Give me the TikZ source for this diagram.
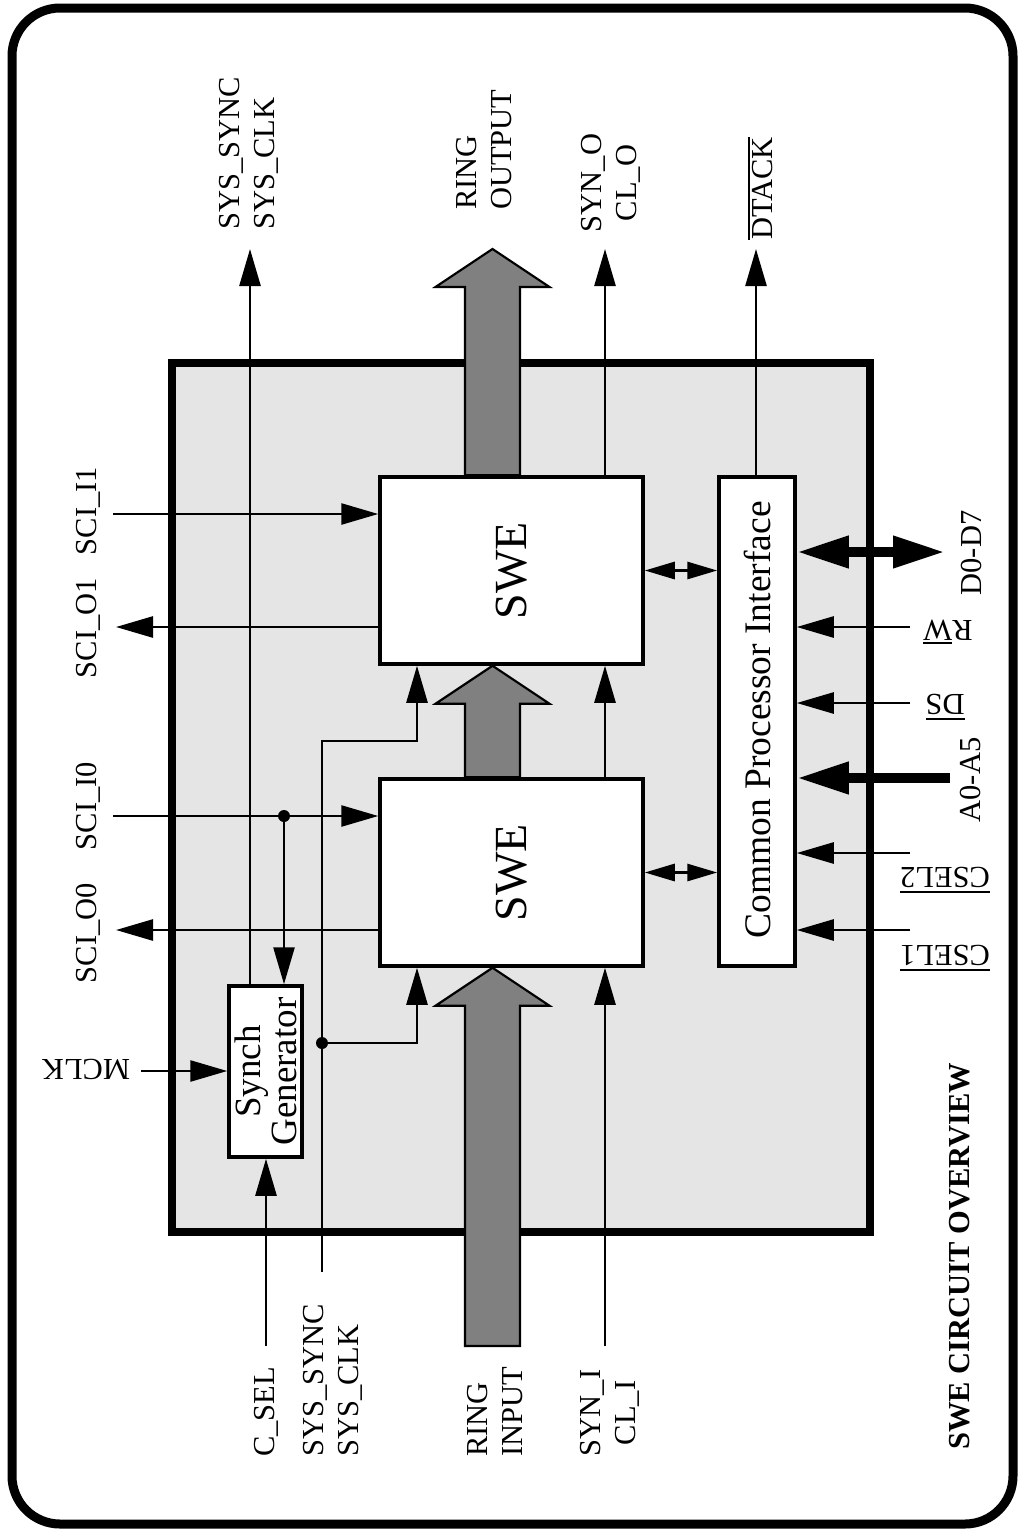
\documentclass[tikz,border=0pt]{standalone}
\usepackage{fontspec}
\setmainfont{Liberation Serif}
\usetikzlibrary{arrows.meta,calc}
\definecolor{chipgray}{HTML}{E5E5E5}
\definecolor{ringgray}{HTML}{808080}
\newcommand{\ovl}[1]{\leavevmode\vbox{\hrule height 2pt\kern 2.5pt\hbox{#1}}}
\newcommand{\lblf}{\fontsize{30.5}{35}\selectfont}
\newcommand{\fatup}[2]{\draw[ring] ($(#1)+(-27.5,0)$) -- ($(#2)+(-27.5,38)$) -- ($(#2)+(-57,38)$) -- (#2) -- ($(#2)+(57,38)$) -- ($(#2)+(27.5,38)$) -- ($(#1)+(27.5,0)$) -- cycle;}
\begin{document}
\begin{tikzpicture}[x=1pt,y=-1pt,
  arr/.style={line width=2.6pt,-{Triangle[length=37pt,width=21pt]}},
  dblarr/.style={line width=3pt,{Triangle[length=30pt,width=17pt]}-{Triangle[length=30pt,width=17pt]}},
  fatarr/.style={line width=10pt,-{Triangle[length=52pt,width=30pt]}},
  fatdbl/.style={line width=10pt,{Triangle[length=52pt,width=30pt]}-{Triangle[length=52pt,width=30pt]}},
  blk/.style={draw,line width=3.5pt,fill=white,inner sep=0pt},
  ring/.style={draw,line width=2.2pt,fill=ringgray,line join=miter},
  lbl/.style={font=\lblf,inner sep=0pt},
  dot/.style={circle,fill,inner sep=0pt,minimum size=12pt},
]
\useasboundingbox (0,0) rectangle (1019,1531);
\draw[line width=9pt,rounded corners=48pt] (12,8) rectangle (1013,1524);

% chip
\node[draw,line width=8pt,fill=chipgray,minimum width=698pt,minimum height=869pt,inner sep=0pt] (chip) at (521,797.5) {};

% blocks
\node[blk,minimum width=263pt,minimum height=187pt] (swe1) at (511.5,570.5) {};
\node[blk,minimum width=263pt,minimum height=187pt] (swe0) at (511.5,872.5) {};
\node[blk,minimum width=76pt,minimum height=489pt] (cpi) at (757,721.5) {};
\node[blk,minimum width=73pt,minimum height=171pt] (syng) at (265.5,1071.5) {};

% free ends
\coordinate (sysoutT) at (250,249);
\coordinate (routT) at (492.5,249);
\coordinate (synoT) at (605,249);
\coordinate (dtkT) at (756,249);
\coordinate (sciI1) at (113,514);
\coordinate (sciO1) at (116,627);
\coordinate (sciI0) at (113,816);
\coordinate (sciO0) at (116,930);
\coordinate (mclkS) at (141,1071);
\coordinate (cselS) at (266,1346);
\coordinate (sysinS) at (322,1272);
\coordinate (bend1) at (417,741);
\coordinate (bend0) at (417,1043);
\coordinate (rinS) at (492.5,1346);
\coordinate (syniS) at (605,1346);
\coordinate (d07) at (945,552);
\coordinate (rwS) at (910,627);
\coordinate (dsS) at (910,703);
\coordinate (a05S) at (950,778);
\coordinate (cs2S) at (910,853);
\coordinate (cs1S) at (910,930);
\coordinate (r1b) at (swe1.north -| routT);
\coordinate (r0b) at (swe0.north -| routT);
\coordinate (r1t) at (swe1.south -| routT);
\coordinate (r0t) at (swe0.south -| routT);

% ring arrows
\fatup{r1b}{routT}
\fatup{r0b}{r1t}
\fatup{rinS}{r0t}

% junctions
\node[dot] (j1) at (284,816) {};
\node[dot] (j2) at (322,1043) {};

% connectors
\draw[arr] (syng.north -| sysoutT) -- (sysoutT);
\draw[arr] (swe1.north -| synoT) -- (synoT);
\draw[arr] (cpi.north -| dtkT) -- (dtkT);
\draw[arr] (sciI1) -- (sciI1 -| swe1.west);
\draw[arr] (swe1.west |- sciO1) -- (sciO1);
\draw[arr] (sciI0) -- (sciI0 -| swe0.west);
\draw[arr] (swe0.west |- sciO0) -- (sciO0);
\draw[arr] (j1.center) -- (j1.center |- syng.north);
\draw[arr] (mclkS) -- (mclkS -| syng.west);
\draw[arr] (cselS) -- (cselS |- syng.south);
\draw[arr] (sysinS) |- (bend1) -- (bend1 |- swe1.south);
\draw[arr] (j2.center) -- (bend0) -- (bend0 |- swe0.south);
\draw[arr] (syniS) -- (syniS |- swe0.south);
\draw[arr] (swe0.north -| syniS) -- (syniS |- swe1.south);
\draw[dblarr] (swe1.east) -- (swe1.east -| cpi.west);
\draw[dblarr] (swe0.east) -- (swe0.east -| cpi.west);
\draw[fatdbl] (cpi.east |- d07) -- (d07);
\draw[arr] (rwS) -- (rwS -| cpi.east);
\draw[arr] (dsS) -- (dsS -| cpi.east);
\draw[fatarr] (a05S) -- (a05S -| cpi.east);
\draw[arr] (cs2S) -- (cs2S -| cpi.east);
\draw[arr] (cs1S) -- (cs1S -| cpi.east);

% block texts
\node[rotate=90,inner sep=0pt,font=\fontsize{46}{50}\selectfont] (swe1t) at (swe1) {SWE};
\node[rotate=90,inner sep=0pt,font=\fontsize{46}{50}\selectfont] (swe0t) at (swe0) {SWE};
\node[rotate=90,inner sep=0pt,font=\fontsize{37.5}{40}\selectfont] (cpit) at (757,720) {Common Processor Interface};
\node[rotate=90,inner sep=0pt,align=center,font=\fontsize{37}{36}\selectfont] (syngt) at (syng) {Synch\\Generator};

% labels
\node[lbl,rotate=90,anchor=west,align=left] (lsysO) at (249,230) {SYS\_SYNC\\SYS\_CLK};
\node[lbl,rotate=90,anchor=west,align=left] (lringO) at (484,210) {RING\\OUTPUT};
\node[lbl,rotate=90,align=center] (lsynO) at (611,183) {SYN\_O\\CL\_O};
\node[lbl,rotate=90,anchor=west] (ldtk) at (760,240) {\ovl{DTACK}};
\node[lbl,rotate=90] (lsciI1) at (88,511) {SCI\_I1};
\node[lbl,rotate=90] (lsciO1) at (88,628) {SCI\_O1};
\node[lbl,rotate=90] (lsciI0) at (88,806) {SCI\_I0};
\node[lbl,rotate=90] (lsciO0) at (88,933) {SCI\_O0};
\node[lbl,rotate=180] (lmclk) at (86,1069) {MCLK};
\node[lbl,rotate=90] (ld07) at (971,553) {D0-D7};
\node[lbl,rotate=180] (lrw) at (948,632) {R\ovl{W}};
\node[lbl,rotate=180] (lds) at (945,707) {\ovl{DS}};
\node[lbl,rotate=90] (la05) at (970,780) {A0-A5};
\node[lbl,rotate=180] (lcs2) at (945,880) {\ovl{CSEL2}};
\node[lbl,rotate=180] (lcs1) at (945,958) {\ovl{CSEL1}};
\node[lbl,rotate=90,anchor=west] (lcsel) at (266,1457) {C\_SEL};
\node[lbl,rotate=90,anchor=west,align=left] (lsysI) at (333,1457) {SYS\_SYNC\\SYS\_CLK};
\node[lbl,rotate=90,anchor=west,align=left] (lringI) at (495,1457) {RING\\INPUT};
\node[lbl,rotate=90,align=center] (lsynI) at (610,1413) {SYN\_I\\CL\_I};
\node[lbl,rotate=90,anchor=west,font=\bfseries\lblf] (title) at (960,1450) {SWE CIRCUIT OVERVIEW};
\end{tikzpicture}
\end{document}
